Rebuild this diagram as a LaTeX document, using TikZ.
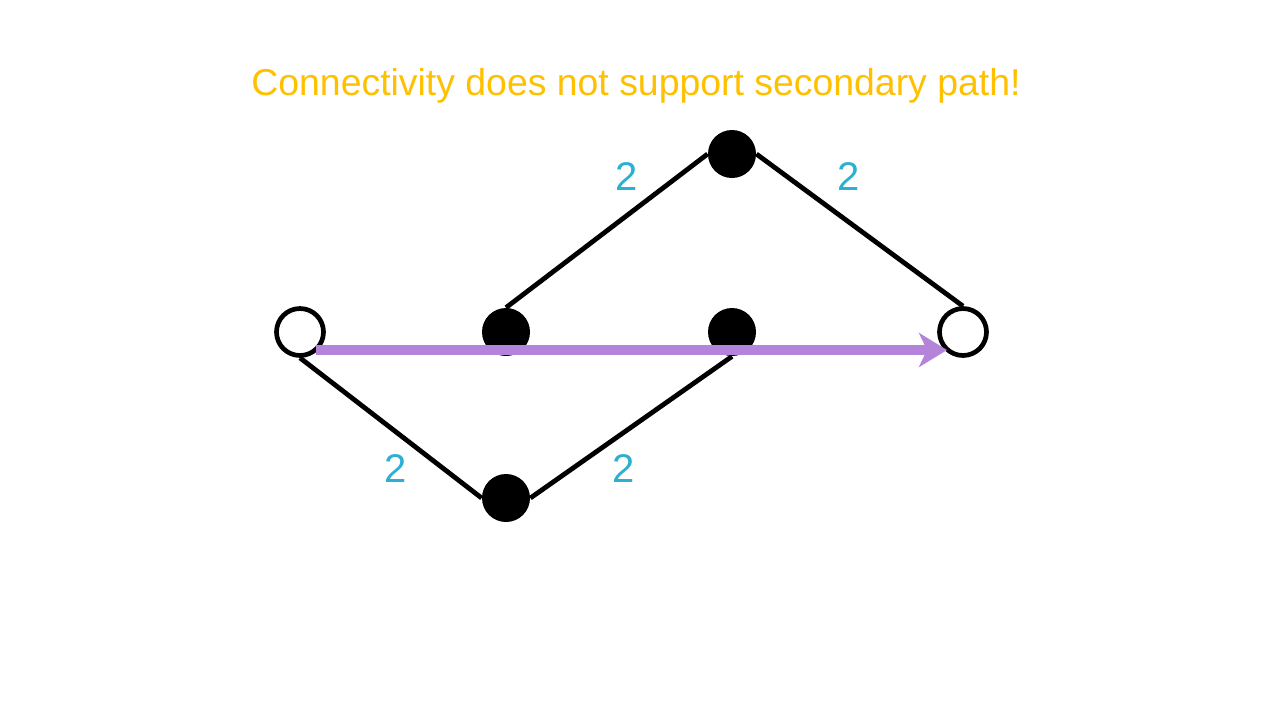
\documentclass[tikz,border=0pt]{standalone}
\usepackage{fontspec}
\setmainfont{Liberation Sans}
\usetikzlibrary{arrows.meta}
\definecolor{titlegold}{RGB}{255,192,0}
\definecolor{labelcyan}{RGB}{43,176,210}
\definecolor{pathpurple}{RGB}{179,132,217}
\tikzset{
  endpoint/.style={circle,draw=black,fill=white,line width=2.35pt,minimum size=23.5pt,inner sep=0pt},
  hop/.style={circle,fill=black,minimum size=24pt,inner sep=0pt},
  link/.style={line width=2.4pt,black},
  weight/.style={text=labelcyan,font=\fontsize{20}{24}\selectfont},
  route/.style={line width=5.3pt,pathpurple,-{Stealth[length=14pt,width=17pt,inset=4pt]}}
}
\begin{document}
\begin{tikzpicture}[x=0.5pt,y=-0.5pt]
\useasboundingbox (0,0) rectangle (1280,720);
\node[endpoint] (src) at (300,332) {};
\node[endpoint] (dst) at (963,332) {};
\node[hop] (m1) at (506,332) {};
\node[hop] (m2) at (732,332) {};
\node[hop] (top) at (732,154) {};
\node[hop] (bot) at (506,498) {};
\draw[link] (m1.north) -- (top.west);
\draw[link] (top.east) -- (dst.north);
\draw[link] (src.south) -- (bot.west);
\draw[link] (bot.east) -- (m2.south);
\coordinate (rs) at (316,350);
\coordinate (re) at (947,350);
\draw[route] (rs) -- (re);
\node[weight] (w1) at (627,177) {2};
\node[weight] (w2) at (849,177) {2};
\node[weight] (w3) at (396,469) {2};
\node[weight] (w4) at (624,469) {2};
\node[text=titlegold,font=\fontsize{18.7}{22}\selectfont] (title) at (636,86) {Connectivity does not support secondary path!};
\end{tikzpicture}
\end{document}
